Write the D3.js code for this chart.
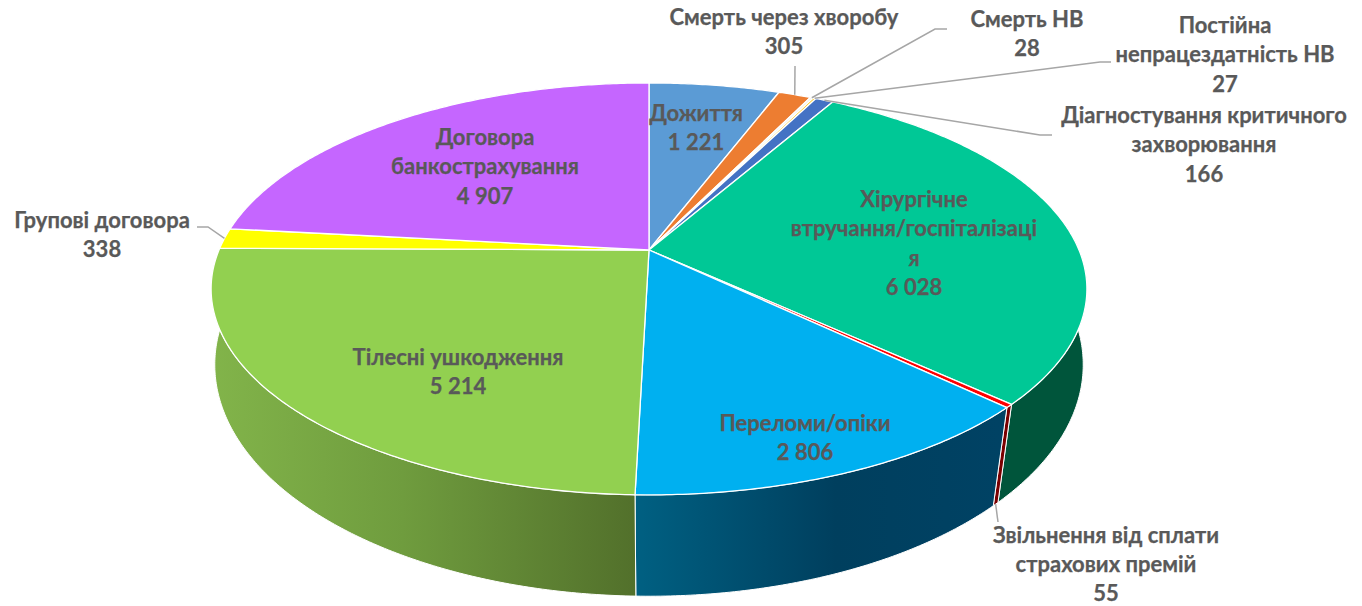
<!DOCTYPE html>
<meta charset="utf-8">
<style>
html, body { margin: 0; background: #fff; }
svg { display: block; }
text { font-family: Lato, 'Open Sans', sans-serif; font-weight: 700; font-size: 22px; fill: #595959; stroke: #595959; stroke-width: 0.25px; text-anchor: middle; }
</style>
<body>
<script src="https://d3js.org/d3.v7.min.js"></script>
<script>
// values, clockwise from 12 o'clock
var names = [
    ['Дожиття'],
    ['Смерть через хворобу'],
    ['Смерть НВ'],
    ['Постійна', 'непрацездатність НВ'],
    ['Діагностування критичного', 'захворювання'],
    ['Хірургічне', 'втручання/госпіталізаці', 'я'],
    ['Звільнення від сплати', 'страхових премій'],
    ['Переломи/опіки'],
    ['Тілесні ушкодження'],
    ['Групові договора'],
    ['Договора', 'банкострахування']
]
var values = [1221, 305, 28, 27, 166, 6028, 55, 2806, 5214, 338, 4907]
var topColors = ['#5b9bd5', '#ed7d31', '#f4f0e6', '#ffc000', '#4472c4', '#00c896', '#ff0000', '#00b0f0', '#92d050', '#ffff00', '#c566ff']
var wallColors = ['#3a6a96', '#a5561f', '#aaa', '#b08500', '#2c4f8a', '#00553b', '#7a0000', 'url(#wall-blue)', 'url(#wall-green)', '#b0b000', '#8a47b3']

// label centre (x) and first line centre (y), line spacing is fixed
var labelX = [696, 784, 1027, 1225, 1204, 914, 1106, 805, 458, 102, 485]
var labelY = [114, 18, 20, 26, 116, 200, 535.5, 424, 358, 221, 138]
// leader lines: elbow + end, null where the label sits on the slice
var leaders = [
    null,
    [[795, 66]],
    [[935, 29], [947, 29]],
    [[1100, 62], [1111, 62]],
    [[1040, 135], [1052, 135]],
    null,
    [[998, 522]],
    null,
    null,
    [[208, 227], [197, 227]],
    null
]

var width = 1362, height = 606
var cx = 649, cy = 250
var rx = 430, ry = 198.6   // disc radii before perspective
var persp = 0.189

var thousands = d3.formatLocale({ decimal: ',', thousands: ' ', grouping: [3], currency: ['', ''] }).format(',d')

// angle clockwise from the top; z 0 = top face, 1 = bottom face
// the bottom face shrinks and drops more towards the viewer, fitted to the picture
function project(a, z) {
    var X = Math.sin(a), Y = -Math.cos(a)
    var w = 1 / (1 - persp * Y + z * 0.05 * Y)
    return [cx + rx * X * w, cy + ry * Y * w + z * (82.5 + 17 * Y) * w]
}

function arcPoints(s, z) {
    var n = Math.max(2, Math.ceil((s.endAngle - s.startAngle) / 0.01))
    return d3.range(n + 1).map(function (i) {
        return project(s.startAngle + (s.endAngle - s.startAngle) * i / n, z)
    })
}

var line = d3.line()
var slices = d3.pie().sort(null).value(d => d)(values)

var svg = d3.select('body').append('svg')
    .attr('width', width)
    .attr('height', height)

var defs = svg.append('defs')
function gradient(id, x1, x2, stops) {
    var g = defs.append('linearGradient').attr('id', id)
        .attr('gradientUnits', 'userSpaceOnUse')
        .attr('x1', x1).attr('x2', x2).attr('y1', 0).attr('y2', 0)
    stops.forEach(function (c) {
        g.append('stop').attr('offset', c[0]).attr('stop-color', c[1])
    })
}
gradient('wall-green', 212, 636, [[0, '#82b44a'], [0.45, '#6f9c3e'], [1, '#52702b']])
gradient('wall-blue', 636, 1000, [[0, '#006082'], [0.55, '#003f5e'], [1, '#004264']])

// walls first, the top faces hide whatever faces away from the viewer
svg.append('g').selectAll('path')
    .data(slices)
    .enter().append('path')
    .attr('d', d => line(arcPoints(d, 0).concat(arcPoints(d, 1).reverse())) + 'Z')
    .attr('fill', (d, i) => wallColors[i])
    .attr('stroke', '#fff')
    .attr('stroke-width', 1)

svg.append('g').selectAll('path')
    .data(slices)
    .enter().append('path')
    .attr('d', d => line([[cx, cy]].concat(arcPoints(d, 0))) + 'Z')
    .attr('fill', (d, i) => topColors[i])
    .attr('stroke', '#fff')
    .attr('stroke-width', 1.3)
    .attr('stroke-linejoin', 'round')

// leader lines start on the rim at the middle of their slice
svg.append('g').selectAll('path')
    .data(slices.filter((d, i) => leaders[i]))
    .enter().append('path')
    .attr('d', function (d) {
        var mid = (d.startAngle + d.endAngle) / 2
        var z = d.index == 6 ? 1 : 0
        return line([project(mid, z)].concat(leaders[d.index]))
    })
    .attr('fill', 'none')
    .attr('stroke', '#a6a6a6')
    .attr('stroke-width', 1.5)

var labels = svg.append('g').selectAll('text')
    .data(slices)
    .enter().append('text')
    .attr('transform', (d, i) => 'translate(' + labelX[i] + ',' + labelY[i] + ')')

labels.selectAll('tspan')
    .data((d, i) => names[i].concat(thousands(values[i])))
    .enter().append('tspan')
    .attr('x', 0)
    .attr('y', (d, i) => 7 + i * 29.3)
    .text(d => d)
</script>
</body>
